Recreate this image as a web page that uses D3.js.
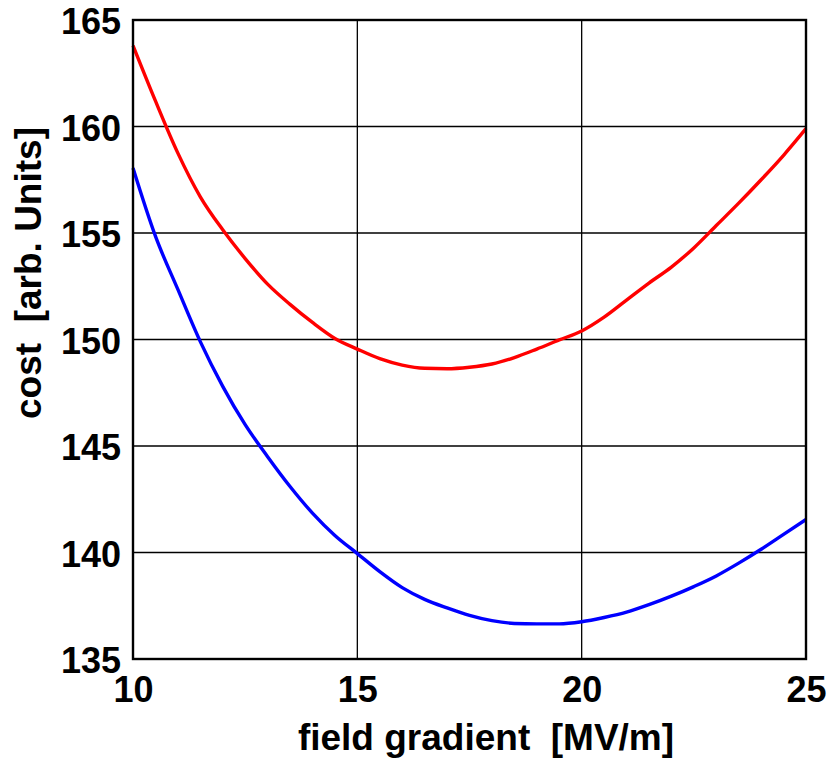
<!DOCTYPE html>
<html>
<head>
<meta charset="utf-8">
<script src="https://cdn.jsdelivr.net/npm/d3@7"></script>
<style>
  html, body { margin: 0; padding: 0; background: #fff; }
  svg { display: block; }
  text { font-family: "Liberation Sans", Arial, sans-serif; font-weight: bold; fill: #000; white-space: pre; }
</style>
</head>
<body>
<svg id="chart" width="829" height="759"></svg>
<script>
// field gradient [MV/m]
const gradient = [10, 10.5, 11, 11.5, 12, 12.5, 13, 13.5, 14, 14.5, 15, 15.5, 16, 16.5, 17, 17.5,
                  18, 18.5, 19, 19.5, 20, 20.5, 21, 21.5, 22, 22.5, 23, 23.5, 24, 24.5, 25];
// upper (red) cost curve
const costRed = [163.8, 161.2, 158.75, 156.7, 155.15, 153.8, 152.6, 151.65, 150.8, 150.05, 149.55, 149.1,
                 148.8, 148.65, 148.63, 148.7, 148.85, 149.15, 149.55, 149.98, 150.4, 151.05, 151.85,
                 152.65, 153.4, 154.3, 155.35, 156.4, 157.5, 158.65, 159.9];
// lower (blue) cost curve
const costBlue = [158.05, 154.85, 152.35, 149.9, 147.8, 146.0, 144.5, 143.1, 141.85, 140.8, 139.95, 139.1,
                  138.35, 137.8, 137.4, 137.05, 136.8, 136.67, 136.65, 136.65, 136.75, 136.95, 137.2,
                  137.55, 137.95, 138.4, 138.9, 139.5, 140.15, 140.85, 141.55];
const xTicks = [10, 15, 20, 25];
const yTicks = [135, 140, 145, 150, 155, 160, 165];
const xTitle = "field gradient  [MV/m]";
const yTitle = "cost  [arb. Units]";

const svg = d3.select("#chart");
const m = {left: 133, right: 806, top: 20, bottom: 659};
const x = d3.scaleLinear().domain([10, 25]).range([m.left, m.right]);
const y = d3.scaleLinear().domain([135, 165]).range([m.bottom, m.top]);

// grid
svg.append("g").selectAll("line").data(xTicks).join("line")
  .attr("x1", d => x(d)).attr("x2", d => x(d))
  .attr("y1", m.top).attr("y2", m.bottom)
  .attr("stroke", "#000").attr("stroke-width", 1.3);
svg.append("g").selectAll("line").data(yTicks).join("line")
  .attr("x1", m.left).attr("x2", m.right)
  .attr("y1", d => y(d)).attr("y2", d => y(d))
  .attr("stroke", "#000").attr("stroke-width", 1.3);

// axes (labels only)
const xAxis = d3.axisBottom(x).tickValues(xTicks).tickSize(0).tickPadding(17).tickFormat(d3.format("d"));
const gx = svg.append("g").attr("transform", `translate(0,${m.bottom})`).call(xAxis);
gx.select(".domain").remove();
gx.selectAll("text").attr("font-size", 36).attr("font-family", "Liberation Sans, Arial, sans-serif")
  .attr("font-weight", "bold").attr("fill", "#000");

const yAxis = d3.axisLeft(y).tickValues(yTicks).tickSize(0).tickPadding(12).tickFormat(d3.format("d"));
const gy = svg.append("g").attr("transform", `translate(${m.left},0)`).call(yAxis);
gy.select(".domain").remove();
gy.selectAll("text").attr("font-size", 36).attr("font-family", "Liberation Sans, Arial, sans-serif")
  .attr("font-weight", "bold").attr("fill", "#000").attr("dy", "0.38em");

// lines
const line = d3.line().x((d, i) => x(gradient[i])).y(d => y(d)).curve(d3.curveMonotoneX);
svg.append("path").datum(costRed).attr("d", line)
  .attr("fill", "none").attr("stroke", "#ff0000").attr("stroke-width", 3.4);
svg.append("path").datum(costBlue).attr("d", line)
  .attr("fill", "none").attr("stroke", "#0000ff").attr("stroke-width", 3.4);

// frame
svg.append("rect").attr("x", m.left).attr("y", m.top)
  .attr("width", m.right - m.left).attr("height", m.bottom - m.top)
  .attr("fill", "none").attr("stroke", "#000").attr("stroke-width", 2.4);

// titles
svg.append("text").attr("x", 486).attr("y", 750).attr("text-anchor", "middle")
  .attr("font-size", 37).text(xTitle);
svg.append("text").attr("transform", "translate(41,273) rotate(-90)").attr("text-anchor", "middle")
  .attr("font-size", 37).text(yTitle);
</script>
</body>
</html>
